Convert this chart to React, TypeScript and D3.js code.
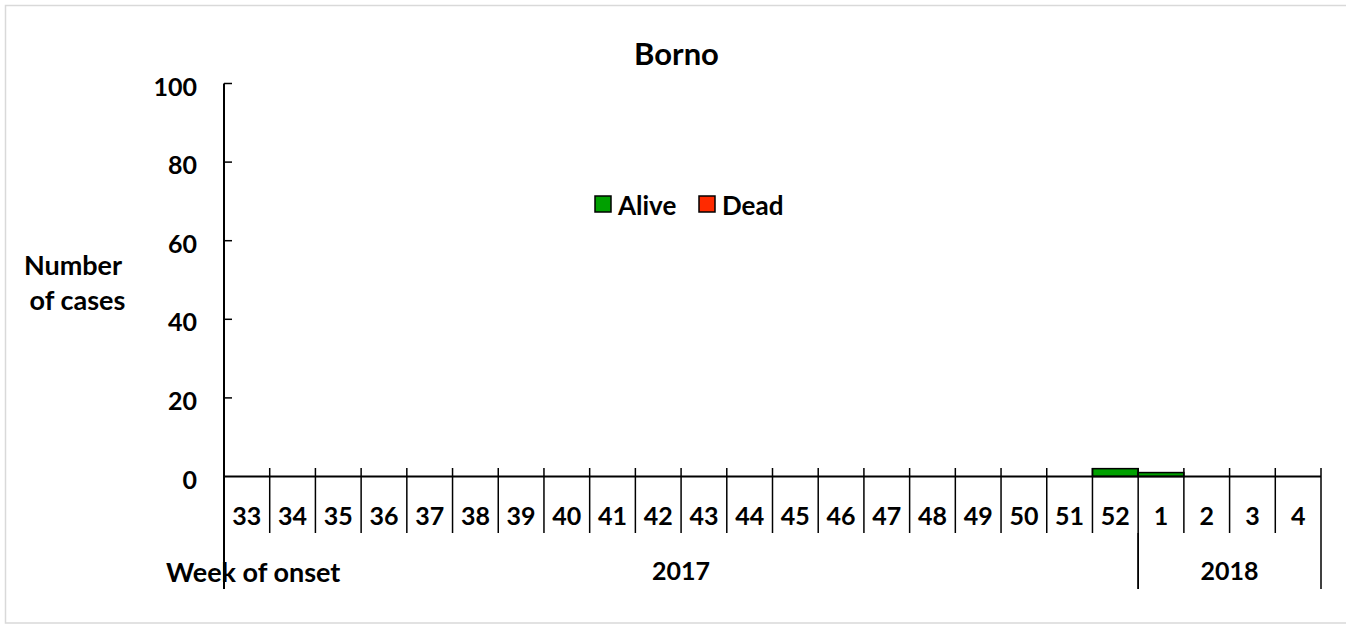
import React from "react";
import * as d3 from "d3";

const title = "Borno";
const weeks = ["33","34","35","36","37","38","39","40","41","42","43","44","45","46","47","48","49","50","51","52","1","2","3","4"];
const years = [
  { label: "2017", from: "33", to: "52" },
  { label: "2018", from: "1", to: "4" },
];
const alive = [0,0,0,0,0,0,0,0,0,0,0,0,0,0,0,0,0,0,0,2,1,0,0,0];
const dead = [0,0,0,0,0,0,0,0,0,0,0,0,0,0,0,0,0,0,0,0,0,0,0,0];
const yTicks = [0, 20, 40, 60, 80, 100];
const seriesNames = ["Alive", "Dead"];
const seriesColors = ["#00A000", "#FF2A00"];

const FONT = "Lato, 'Open Sans', sans-serif";

export default function App() {
  const W = 1346, H = 625;
  const y = d3.scaleLinear().domain([0, 100]).range([476.5, 83.5]);
  const x = d3.scaleBand().domain(weeks).range([224, 1321]).padding(0);
  const bw = x.bandwidth();

  const table = weeks.map((w, i) => ({ week: w, Alive: alive[i], Dead: dead[i] }));
  const stacked = d3.stack<any>().keys(seriesNames)(table);

  const boundaries = weeks.map((w) => x(w)!).concat([x(weeks[weeks.length - 1])! + bw]);

  return (
    <div style={{ position: "absolute", left: 0, top: 0 }}>
      <svg width={W} height={H} style={{ display: "block" }}>
        <rect x={0} y={0} width={W} height={H} fill="#fff" />
        <rect x={5.5} y={5.5} width={1400} height={617.5} fill="none" stroke="#d9d9d9" strokeWidth={1.5} />
        <text x={676.5} y={65} textAnchor="middle" fontFamily={FONT} fontWeight="bold" fontSize={31} fill="#000">{title}</text>

        {/* bars */}
        {stacked.map((s, si) => (
          <g key={si}>
            {s.map((d, i) =>
              d[1] - d[0] > 0 ? (
                <rect key={i} x={x(weeks[i])!} y={y(d[1])} width={bw} height={y(d[0]) - y(d[1])}
                  fill={seriesColors[si]} stroke="#000" strokeWidth={1.5} />
              ) : null
            )}
          </g>
        ))}

        {/* y axis */}
        <line x1={224} x2={224} y1={y(100)} y2={589} stroke="#000" strokeWidth={2} />
        {yTicks.map((t) => (
          <g key={t}>
            {t > 0 && <line x1={224} x2={232} y1={y(t)} y2={y(t)} stroke="#000" strokeWidth={1.5} />}
            <text x={197} y={y(t) + 12} textAnchor="end" fontFamily={FONT} fontWeight="bold" fontSize={25} fill="#000">{t}</text>
          </g>
        ))}
        <text fontFamily={FONT} fontWeight="bold" fontSize={27} fill="#000" textAnchor="middle">
          <tspan x={73} y={275}>Number</tspan>
          <tspan x={77.5} y={310}>of cases</tspan>
        </text>

        {/* x axis */}
        <line x1={224} x2={1321} y1={y(0)} y2={y(0)} stroke="#000" strokeWidth={2} />
        {boundaries.map((b, i) => (
          <line key={i} x1={b} x2={b} y1={468} y2={533} stroke="#000" strokeWidth={1.5} />
        ))}
        {weeks.map((w) => (
          <text key={w} x={x(w)! + bw / 2} y={525} textAnchor="middle" fontFamily={FONT} fontWeight="bold" fontSize={25} fill="#000">{w}</text>
        ))}
        {years.map((yr) => {
          const x0 = x(yr.from)!;
          const x1 = x(yr.to)! + bw;
          return (
            <g key={yr.label}>
              <line x1={x0} x2={x0} y1={533} y2={589} stroke="#000" strokeWidth={1.5} />
              <line x1={x1} x2={x1} y1={533} y2={589} stroke="#000" strokeWidth={1.5} />
              <text x={(x0 + x1) / 2} y={580} textAnchor="middle" fontFamily={FONT} fontWeight="bold" fontSize={25} fill="#000">{yr.label}</text>
            </g>
          );
        })}
        <text x={166} y={582} fontFamily={FONT} fontWeight="bold" fontSize={27} fill="#000">Week of onset</text>

        {/* legend */}
        {seriesNames.map((n, i) => {
          const lx = [595, 699][i];
          return (
            <g key={n}>
              <rect x={lx} y={196} width={16} height={16} fill={seriesColors[i]} stroke="#000" strokeWidth={1.5} />
              <text x={lx + 23} y={215} fontFamily={FONT} fontWeight="bold" fontSize={26} fill="#000">{n}</text>
            </g>
          );
        })}
      </svg>
    </div>
  );
}
